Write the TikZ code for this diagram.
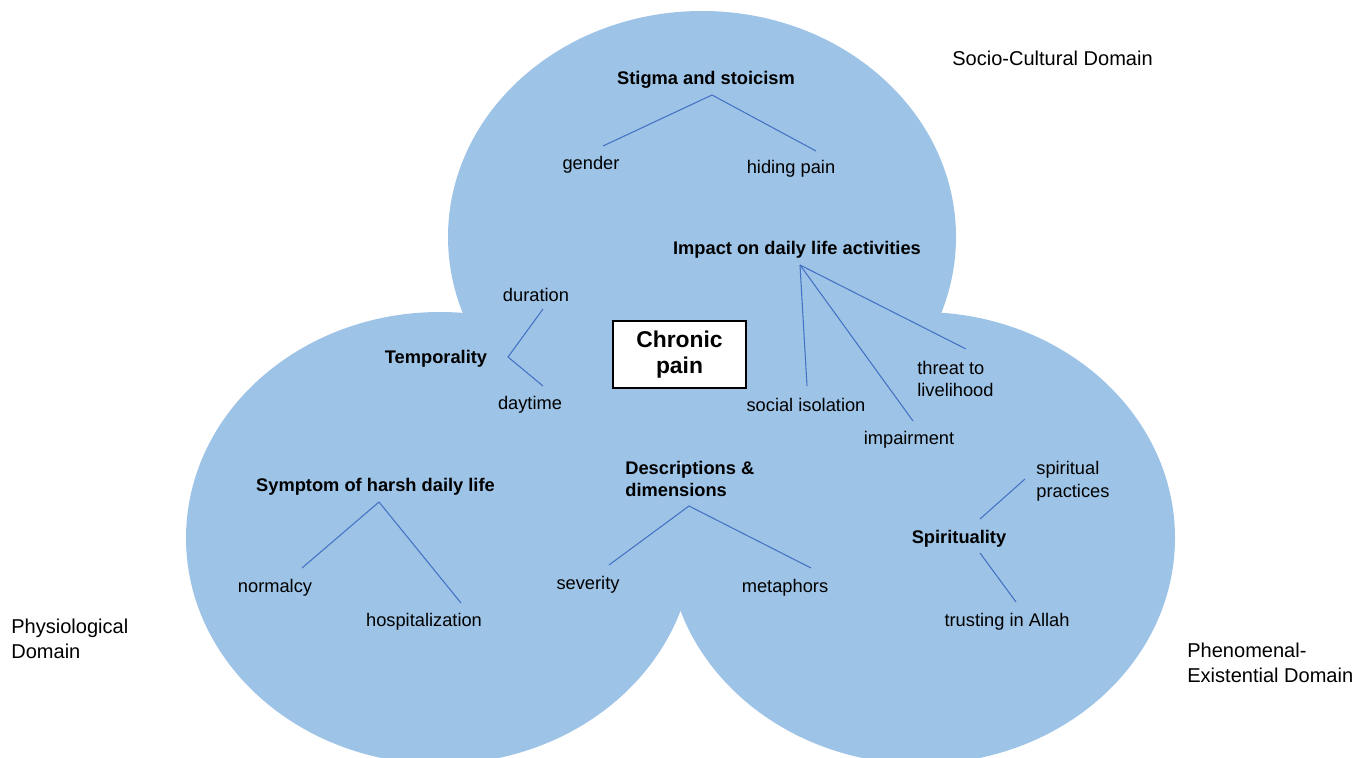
\documentclass[tikz,border=0pt]{standalone}
\usepackage{fontspec}
\setmainfont{Liberation Sans}
\usetikzlibrary{calc}
\definecolor{domainblue}{RGB}{157,195,230}
\definecolor{linkblue}{RGB}{68,114,196}

\begin{document}
\begin{tikzpicture} [x=0.02cm, y=-0.02cm,
  theme/.style={font=\fontsize{10.4}{13}\selectfont\bfseries, inner sep=0pt},
  code/.style={font=\fontsize{10.4}{13}\selectfont, inner sep=0pt},
  domainlabel/.style={font=\fontsize{11.4}{14}\selectfont, inner sep=0pt, anchor=west, align=left},
  link/.style={draw=linkblue, line width=0.6pt}]
 \useasboundingbox (0,0) rectangle (1372,757);
 \clip (0,0) rectangle (1372,757);
 % the three domains
 \fill [domainblue] (702,237) ellipse [x radius=254, y radius=226];
 \fill [domainblue] (440,538) ellipse [x radius=254, y radius=226];
 \fill [domainblue] (921,538) ellipse [x radius=254, y radius=226];
 \node [domainlabel] (socio) at (952,58) {Socio-Cultural Domain};
 \node [domainlabel] (physio) at (11,639) {Physiological\\Domain};
 \node [domainlabel] (pheno) at (1187,663) {Phenomenal-\\Existential Domain};
 % centre
 \node [draw=black, line width=1.2pt, fill=white, minimum width=75.4pt, minimum height=38pt,
   align=center, font=\fontsize{13}{14.7}\selectfont\bfseries] (chronic) at (679.5,354.5) {Chronic\\pain};
 % stigma and stoicism
 \node [theme] (stigma) at (706,80) {Stigma and stoicism};
 \node [code] (gender) at (591,165) {gender};
 \node [code] (hiding) at (791,169) {hiding pain};
 \draw [link] ($(gender)+(12,-19)$) -- ($(stigma)+(6,15)$) -- ($(hiding)+(25,-18)$);
 % impact on daily life
 \node [theme] (impact) at (797,250) {Impact on daily life activities};
 \node [code] (social) at (806,405) {social isolation};
 \node [code] (impair) at (909,440) {impairment};
 \node [code, anchor=west, align=left] (threat) at (917,379) {threat to\\livelihood};
 \draw [link] ($(impact)+(3,15)$) -- ($(social)+(1,-19)$);
 \draw [link] ($(impact)+(3,15)$) -- ($(impair)+(4,-19)$);
 \draw [link] ($(impact)+(3,15)$) -- ($(threat.west)+(49,-30)$);
 % temporality
 \node [theme] (temporality) at (436,359) {Temporality};
 \node [code] (duration) at (536,295) {duration};
 \node [code] (daytime) at (530,405) {daytime};
 \draw [link] ($(duration)+(7,14)$) -- ($(temporality)+(72,-2)$) -- ($(daytime)+(13,-19)$);
 % symptom of harsh daily life
 \node [theme] (symptom) at (375.5,487) {Symptom of harsh daily life};
 \node [code] (normalcy) at (275,588) {normalcy};
 \node [code] (hospital) at (424,622) {hospitalization};
 \draw [link] ($(normalcy)+(27,-20)$) -- ($(symptom)+(3.5,15)$) -- ($(hospital)+(37,-19)$);
 % descriptions
 \node [theme, anchor=west, align=left] (descr) at (625,479) {Descriptions \&\\dimensions};
 \node [code] (severity) at (588,585) {severity};
 \node [code] (metaphors) at (785,588) {metaphors};
 \draw [link] ($(severity)+(21,-20)$) -- ($(descr.west)+(64,27)$) -- ($(metaphors)+(26,-20)$);
 % spirituality
 \node [theme] (spirit) at (959,539) {Spirituality};
 \node [code, anchor=west, align=left] (practices) at (1036,481) {spiritual\\practices};
 \node [code] (trusting) at (1007,622) {trusting in Allah};
 \draw [link] ($(spirit)+(21,-20)$) -- ($(practices.west)+(-11,-2)$);
 \draw [link] ($(spirit)+(21,14)$) -- ($(trusting)+(9,-20)$);
\end{tikzpicture}
\end{document}
